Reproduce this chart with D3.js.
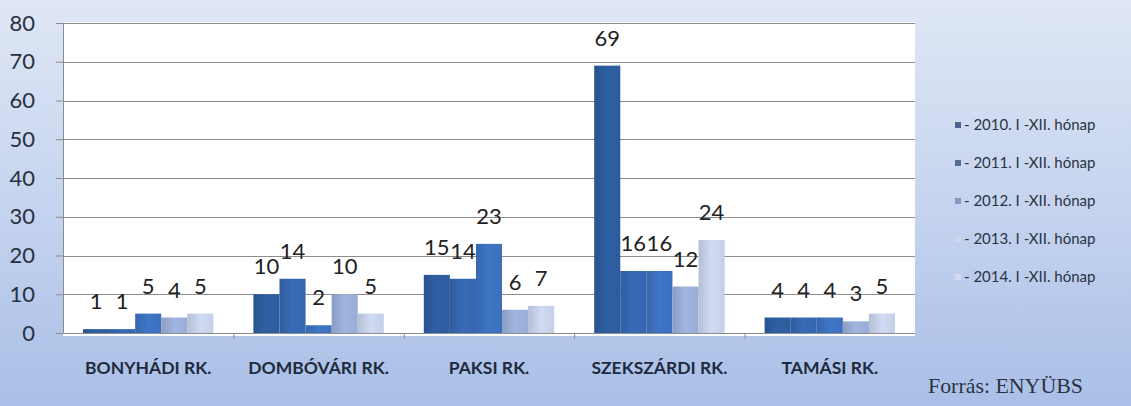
<!DOCTYPE html>
<html><head><meta charset="utf-8">
<script src="https://cdn.jsdelivr.net/npm/d3@7"></script>
<style>html,body{margin:0;padding:0;overflow:hidden;}svg{display:block;}</style>
</head><body>
<svg id="c" width="1131" height="406"></svg>
<script>
const categories = ["BONYHÁDI RK.", "DOMBÓVÁRI RK.", "PAKSI RK.", "SZEKSZÁRDI RK.", "TAMÁSI RK."];
const seriesNames = ["- 2010. I -XII. hónap", "- 2011. I -XII. hónap", "- 2012. I -XII. hónap", "- 2013. I -XII. hónap", "- 2014. I -XII. hónap"];
const v2010 = [1, 10, 15, 69, 4];
const v2011 = [1, 14, 14, 16, 4];
const v2012 = [5, 2, 23, 16, 4];
const v2013 = [4, 10, 6, 12, 3];
const v2014 = [5, 5, 7, 24, 5];
const yTicks = [0, 10, 20, 30, 40, 50, 60, 70, 80];
const source = "Forrás: ENYÜBS";

const seriesValues = [v2010, v2011, v2012, v2013, v2014];
const barColors = ["#2d5b9c", "#3565ad", "#3c70bd", "#99acd5", "#c5d0e7"];
const markerColors = ["#4f6690", "#556c96", "#8598bf", "#cdd6ea", "#d3dcef"];

const svg = d3.select("#c");
const W = 1131, H = 406;
const defs = svg.append("defs");
const bg = defs.append("linearGradient").attr("id", "bg").attr("x1", 0).attr("y1", 0).attr("x2", 0).attr("y2", 1);
bg.append("stop").attr("offset", "0").attr("stop-color", "#dfe7f5");
bg.append("stop").attr("offset", "0.5").attr("stop-color", "#c6d4ef");
bg.append("stop").attr("offset", "1").attr("stop-color", "#a9bfe7");
barColors.forEach((c, i) => {
  const g = defs.append("linearGradient").attr("id", "bar" + i).attr("x1", 0).attr("x2", 1).attr("y1", 0).attr("y2", 0);
  const dark = d3.color(c).darker(0.25), light = d3.color(c).brighter(0.15);
  g.append("stop").attr("offset", "0").attr("stop-color", dark);
  g.append("stop").attr("offset", "0.5").attr("stop-color", light);
  g.append("stop").attr("offset", "1").attr("stop-color", c);
});

svg.append("rect").attr("width", W).attr("height", H).attr("fill", "url(#bg)");

const m = {left: 63, right: 915, top: 23, bottom: 333};
const y = d3.scaleLinear().domain([0, 80]).range([m.bottom, m.top]);
const x0 = d3.scaleBand().domain(categories).range([m.left, m.right]);
const x1 = d3.scaleBand().domain(d3.range(seriesNames.length)).range([20, x0.bandwidth() - 20]);

svg.append("rect").attr("x", m.left).attr("y", m.top - 1).attr("width", m.right - m.left).attr("height", m.bottom - m.top + 4).attr("fill", "#ffffff");

// grid + y axis
const yAxis = svg.append("g").attr("transform", `translate(${m.left},0)`)
  .call(d3.axisLeft(y).tickValues(yTicks).tickSize(7).tickPadding(21));
yAxis.select(".domain").attr("stroke", "#8c8c8c");
yAxis.selectAll(".tick line").attr("stroke", "#8c8c8c");
yAxis.selectAll(".tick text").attr("font-family", "Lato, 'Open Sans', sans-serif").attr("font-size", 22).attr("fill", "#283040");
svg.append("g").selectAll("line").data(yTicks).join("line")
  .attr("x1", m.left).attr("x2", m.right).attr("y1", d => Math.round(y(d)) + 0.5).attr("y2", d => Math.round(y(d)) + 0.5)
  .attr("stroke", "#8c8c8c").attr("stroke-width", 1);

// x axis
const xAxis = svg.append("g").attr("transform", `translate(0,${m.bottom})`)
  .call(d3.axisBottom(x0).tickSize(0).tickPadding(29));
xAxis.select(".domain").remove();
xAxis.selectAll(".tick text").attr("font-family", "Lato, sans-serif").attr("font-weight", "bold").attr("font-size", 17.5).attr("fill", "#1f2a3c");
svg.append("g").selectAll("line").data(categories.slice(1)).join("line")
  .attr("x1", d => x0(d) + 0.5).attr("x2", d => x0(d) + 0.5).attr("y1", m.bottom).attr("y2", m.bottom + 6)
  .attr("stroke", "#8c8c8c");

// bars
const groups = svg.append("g").selectAll("g").data(categories).join("g")
  .attr("transform", d => `translate(${x0(d)},0)`);
groups.each(function(cat, ci) {
  const g = d3.select(this);
  seriesValues.forEach((vals, si) => {
    const v = vals[ci];
    g.append("rect").attr("x", x1(si)).attr("width", x1.bandwidth())
      .attr("y", y(v)).attr("height", y(0) - y(v)).attr("fill", `url(#bar${si})`);
  });
  seriesValues.forEach((vals, si) => {
    const v = vals[ci];
    g.append("text").attr("x", x1(si) + x1.bandwidth() / 2).attr("y", y(v) - 20)
      .attr("text-anchor", "middle").attr("font-family", "Lato, 'Open Sans', sans-serif").attr("font-size", 22)
      .attr("fill", "#222").text(v);
  });
});

// legend
const leg = svg.append("g").attr("transform", "translate(955,0)");
seriesNames.forEach((n, i) => {
  const cy = 125 + i * 38;
  leg.append("rect").attr("x", 0).attr("y", cy - 3).attr("width", 6).attr("height", 6).attr("fill", markerColors[i]);
  leg.append("text").attr("x", 9).attr("y", cy + 5).attr("font-family", "Lato, sans-serif").attr("font-size", 15)
    .attr("fill", "#2b3342").text(n);
});

svg.append("text").attr("x", 928).attr("y", 393).attr("font-family", "'Liberation Serif', 'DejaVu Serif', serif")
  .attr("font-size", 21).attr("textLength", 155).attr("lengthAdjust", "spacingAndGlyphs")
  .attr("fill", "#2b3342").text(source);
</script>
</body></html>
